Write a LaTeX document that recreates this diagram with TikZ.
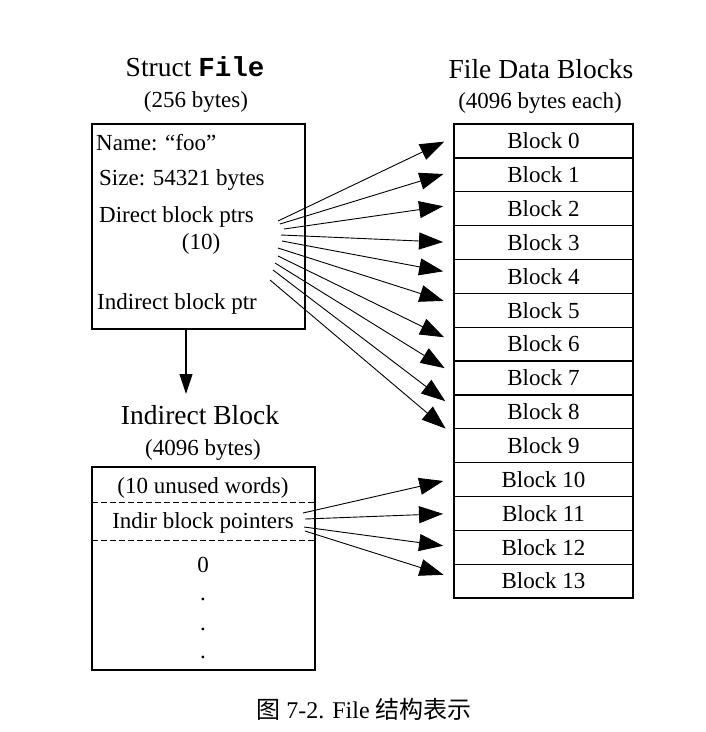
\documentclass[tikz,border=0pt]{standalone}
\usepackage{fontspec}
\setmainfont{Liberation Serif}
\newfontfamily\cjkfont{Noto Sans CJK SC}
\newfontfamily\codefont{Liberation Mono}
\usetikzlibrary{arrows.meta,positioning}

\begin{document}
\begin{tikzpicture}[x=1pt, y=-1pt,
    txt/.style={font=\fontsize{23}{27}\selectfont, inner sep=0pt},
    title/.style={font=\fontsize{27.5}{32}\selectfont, inner sep=0pt},
    blk/.style={draw, line width=1.3pt, minimum width=179pt, minimum height=33.86pt, inner sep=0pt, outer sep=0pt, font=\fontsize{23}{27}\selectfont},
    frame/.style={draw, line width=1.3pt, inner sep=0pt, outer sep=0pt},
    sep/.style={dash pattern=on 6pt off 3pt, line width=0.9pt},
    ptr/.style={-{Triangle[length=24pt,width=17pt]}, line width=0.9pt, shorten >=11pt},
    down/.style={-{Triangle[length=20pt,width=13pt]}, line width=1.1pt}
  ]
    \useasboundingbox (0,0) rectangle (706,732);

    % struct File
    \node[title, anchor=base] (sttitle) at (195,76) {Struct {\codefont\bfseries File}};
    \node[txt, anchor=base] (stsize) at (196,107) {(256 bytes)};
    \node[frame, minimum width=213pt, minimum height=205pt] (filebox) at (198.5,226.5) {};
    \node[txt, anchor=base west] (fname) at (96,150) {Name: “foo”};
    \node[txt, anchor=base west] (fsize) at (99,185) {Size: 54321 bytes};
    \node[txt, anchor=base west] (fdirect) at (99,222) {Direct block ptrs};
    \node[txt, anchor=base] (ften) at (201,249) {(10)};
    \node[txt, anchor=base west] (findir) at (97,309) {Indirect block ptr};

    % indirect block
    \node[title, anchor=base] (ibtitle) at (200,424) {Indirect Block};
    \node[txt, anchor=base] (ibsize) at (203,455) {(4096 bytes)};
    \node[frame, minimum width=223pt, minimum height=203pt] (indbox) at (203.5,568.5) {};
    \draw[sep] (92,502) -- (315,502);
    \draw[sep] (92,540) -- (315,540);
    \node[txt, anchor=base] (unused) at (203,493) {(10 unused words)};
    \node[txt, anchor=base] (indptrs) at (203,528) {Indir block pointers};
    \node[txt, anchor=base] (zero) at (203,572) {0};
    \node[txt, anchor=base] (dota) at (203,600) {.};
    \node[txt, anchor=base] (dotb) at (203,630) {.};
    \node[txt, anchor=base] (dotc) at (203,658) {.};

    % data blocks
    \node[title, anchor=base] (dbtitle) at (541,78) {File Data Blocks};
    \node[txt, anchor=base] (dbsize) at (540,108) {(4096 bytes each)};
    \node[blk, anchor=north] (b0) at (543.5,124) {Block 0};
    \node[blk, below=0pt of b0] (b1) {Block 1};
    \node[blk, below=0pt of b1] (b2) {Block 2};
    \node[blk, below=0pt of b2] (b3) {Block 3};
    \node[blk, below=0pt of b3] (b4) {Block 4};
    \node[blk, below=0pt of b4] (b5) {Block 5};
    \node[blk, below=0pt of b5] (b6) {Block 6};
    \node[blk, below=0pt of b6] (b7) {Block 7};
    \node[blk, below=0pt of b7] (b8) {Block 8};
    \node[blk, below=0pt of b8] (b9) {Block 9};
    \node[blk, below=0pt of b9] (b10) {Block 10};
    \node[blk, below=0pt of b10] (b11) {Block 11};
    \node[blk, below=0pt of b11] (b12) {Block 12};
    \node[blk, below=0pt of b12] (b13) {Block 13};

    % pointer starts
    \coordinate (d0) at (278,221);
    \coordinate (d1) at (280,224);
    \coordinate (d2) at (284,229);
    \coordinate (d3) at (281,235);
    \coordinate (d4) at (282,241);
    \coordinate (d5) at (278,248);
    \coordinate (d6) at (278,256);
    \coordinate (d7) at (275,263);
    \coordinate (d8) at (273,270);
    \coordinate (d9) at (270,280);
    \coordinate (i0) at (303,513);
    \coordinate (i1) at (305,519);
    \coordinate (i2) at (304,527);
    \coordinate (i3) at (305,531);
    \coordinate (ibtop) at (186,394);

    \draw[down] ([xshift=-12.5pt]filebox.south) -- (ibtop);

    \draw[ptr] (d0) -- ([yshift=4pt]b0.west);
    \draw[ptr] (d1) -- ([yshift=4pt]b1.west);
    \draw[ptr] (d2) -- ([yshift=4pt]b2.west);
    \draw[ptr] (d3) -- (b3.west);
    \draw[ptr] (d4) -- ([yshift=3pt]b4.west);
    \draw[ptr] (d5) -- ([yshift=6pt]b5.west);
    \draw[ptr] (d6) -- ([yshift=2pt]b6.west);
    \draw[ptr] (d7) -- ([yshift=4pt]b7.west);
    \draw[ptr] (d8) -- ([yshift=4pt]b8.west);
    \draw[ptr] (d9) -- ([yshift=10pt]b9.west);

    \draw[ptr] (i0) -- ([yshift=1pt]b10.west);
    \draw[ptr] (i1) -- (b11.west);
    \draw[ptr] (i2) -- (b12.west);
    \draw[ptr] (i3) -- ([yshift=3pt]b13.west);

    % caption
    \node[font=\fontsize{24}{28}\selectfont, anchor=base, inner sep=0pt] (caption) at (364,718) {{\cjkfont 图} 7-2. File {\cjkfont 结构表示}};
  \end{tikzpicture}
\end{document}
